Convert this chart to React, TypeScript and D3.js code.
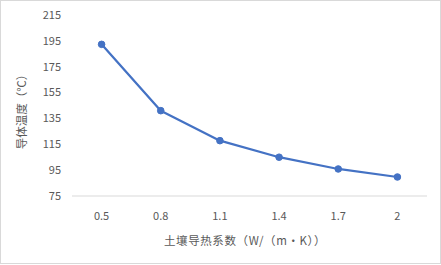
import React from "react";
import * as d3 from "d3";

const categories = ["0.5", "0.8", "1.1", "1.4", "1.7", "2"];
const temps = [192.3, 141, 117.8, 105, 95.9, 89.7];
const yTicks = [75, 95, 115, 135, 155, 175, 195, 215];
const xTitle = "土壤导热系数（W/（m·K））";
const yTitle = "导体温度（℃）";

export default function App() {
  const W = 441, H = 265;
  const left = 72, right = 427, top = 15, bottom = 196;
  const x = d3.scaleBand<string>().domain(categories).range([left, right]);
  const y = d3.scaleLinear().domain([75, 215]).range([bottom, top]);
  const line = d3
    .line<number>()
    .x((_, i) => (x(categories[i]) as number) + x.bandwidth() / 2)
    .y((d) => y(d));
  const font = "'Noto Sans CJK SC', 'Noto Sans', sans-serif";
  return (
    <svg
      width={W}
      height={H}
      style={{ position: "absolute", left: 0, top: 0, display: "block" }}
      fontFamily={font}
    >
      <rect x={0.5} y={0.5} width={W - 1} height={H - 2} fill="#fff" stroke="#d9d9d9" />
      <line x1={left} x2={right} y1={bottom} y2={bottom} stroke="#d9d9d9" strokeWidth={1} />
      {yTicks.map((t) => (
        <text key={t} x={61} y={y(t)} dy="0.35em" textAnchor="end" fontSize={11} fill="#595959">
          {t}
        </text>
      ))}
      {categories.map((c) => (
        <text
          key={c}
          x={(x(c) as number) + x.bandwidth() / 2}
          y={216}
          dy="0.35em"
          textAnchor="middle"
          fontSize={11}
          fill="#595959"
        >
          {c}
        </text>
      ))}
      <path d={line(temps) || ""} fill="none" stroke="#4472C4" strokeWidth={2.25} strokeLinejoin="round" />
      {temps.map((v, i) => (
        <circle
          key={i}
          cx={(x(categories[i]) as number) + x.bandwidth() / 2}
          cy={y(v)}
          r={3.3}
          fill="#4472C4"
          stroke="#4472C4"
        />
      ))}
      <text
        x={245}
        y={241}
        dy="0.35em"
        textAnchor="middle"
        fontSize={11.5}
        letterSpacing={0.6}
        fill="#595959"
      >
        {xTitle}
      </text>
      <text
        transform={`translate(22,109) rotate(-90)`}
        dy="0.35em"
        textAnchor="middle"
        fontSize={11.5}
        fill="#595959"
      >
        {yTitle}
      </text>
    </svg>
  );
}
